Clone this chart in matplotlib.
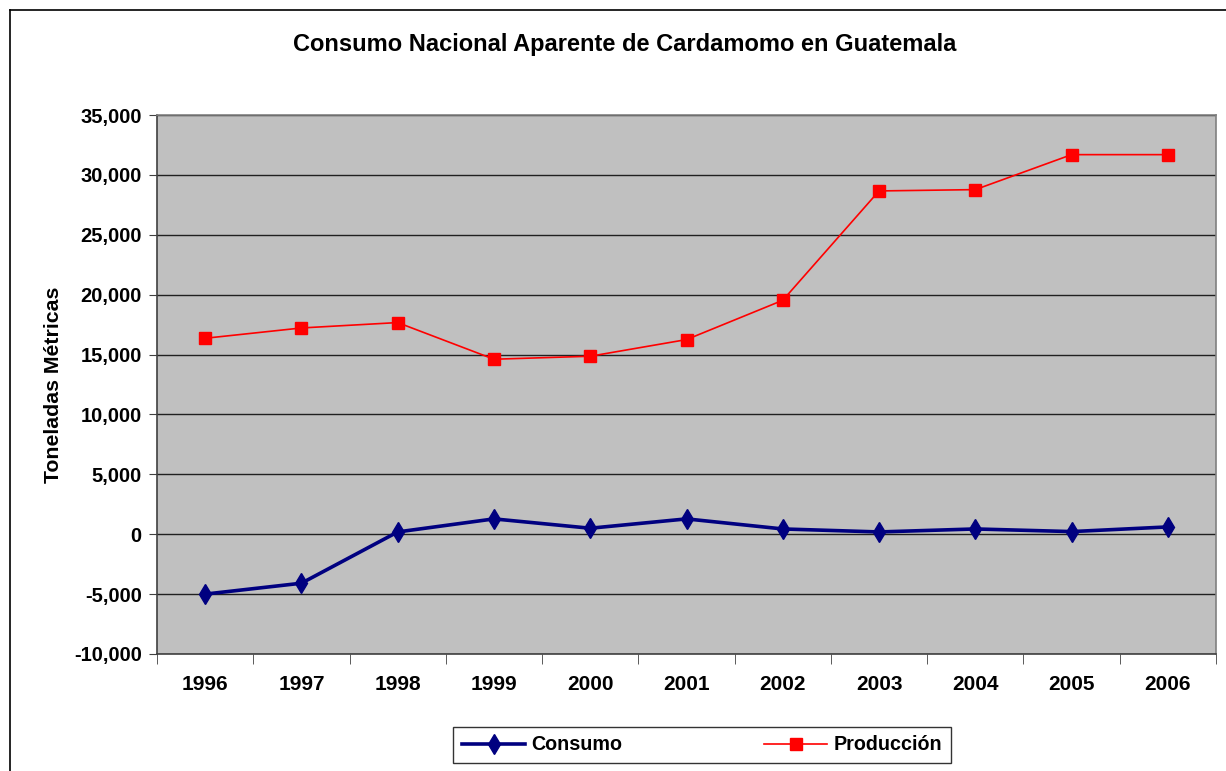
import matplotlib
matplotlib.use("Agg")
import matplotlib.pyplot as plt
from matplotlib.lines import Line2D
from matplotlib.ticker import FuncFormatter, FixedLocator

years = ["1996", "1997", "1998", "1999", "2000", "2001", "2002", "2003", "2004", "2005", "2006"]
consumo = [-5000, -4090, 190, 1280, 500, 1280, 440, 190, 440, 220, 610]
produccion = [16360, 17220, 17670, 14610, 14860, 16250, 19530, 28660, 28770, 31690, 31690]

plt.rcParams['font.family'] = ['Liberation Sans', 'DejaVu Sans']

fig = plt.figure(figsize=(12.26, 7.71), dpi=100)
ax = fig.add_axes([157/1226, 1-654/771, (1216-157)/1226, (654-115)/771])
ax.set_facecolor('#C0C0C0')

x = list(range(len(years)))
ax.plot(x, consumo, color='#000080', lw=2.6, marker='d', markersize=10,
        markerfacecolor='#000080', markeredgecolor='#000080', label='Consumo', zorder=3)
ax.plot(x, produccion, color='#FF0000', lw=1.2, marker='s', markersize=8,
        markerfacecolor='#FF0000', markeredgecolor='#FF0000', label='Producción', zorder=3)

ax.set_xlim(-0.5, len(years) - 0.5)
ax.set_ylim(-10000, 35000)
ax.set_yticks(range(-10000, 35001, 5000))
ax.yaxis.set_major_formatter(FuncFormatter(lambda v, p: f"{int(v):,}"))
ax.grid(axis='y', color='#202020', lw=1.0)
ax.set_axisbelow(True)

ax.set_xticks(x)
ax.set_xticklabels(years)
ax.xaxis.set_minor_locator(FixedLocator([i - 0.5 for i in range(len(years) + 1)]))
ax.tick_params(axis='x', which='major', length=0, pad=15, labelsize=15)
ax.tick_params(axis='x', which='minor', length=7, color='#404040', direction='out')
ax.tick_params(axis='y', length=6, color='#404040', direction='out', pad=5, labelsize=14.5)
for lab in ax.get_xticklabels() + ax.get_yticklabels():
    lab.set_fontweight('bold')

for s in ['left', 'bottom', 'top', 'right']:
    ax.spines[s].set_color('#808080')
    ax.spines[s].set_linewidth(1.2)
ax.spines['left'].set_color('#404040')
ax.spines['bottom'].set_color('#404040')

ax.set_ylabel('Toneladas Métricas', fontsize=15.3, fontweight='bold', labelpad=8)

fig.text(625/1226, 1-45/771, 'Consumo Nacional Aparente de Cardamomo en Guatemala',
         ha='center', va='center', fontsize=17, fontweight='bold')

leg = fig.legend(handles=ax.get_lines(), loc='center', bbox_to_anchor=(702/1226, 1-745/771),
                 ncol=2, frameon=True, fancybox=False, edgecolor='black',
                 prop={'weight': 'bold', 'size': 14.2}, handlelength=3.2, handletextpad=0.3,
                 columnspacing=7.2, borderpad=0.45)
leg.get_frame().set_linewidth(1.0)

# outer chart frame
fig.add_artist(Line2D([10/1226, 10/1226], [0, 1-10/771], transform=fig.transFigure, color='black', lw=1.2))
fig.add_artist(Line2D([10/1226, 1], [1-10/771, 1-10/771], transform=fig.transFigure, color='black', lw=1.2))

fig.savefig('out.png', dpi=100)
